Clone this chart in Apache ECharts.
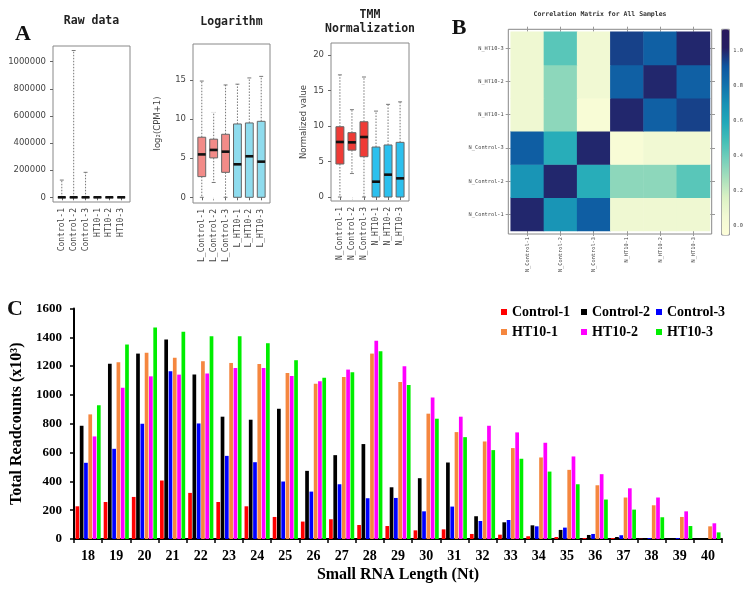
<!DOCTYPE html>
<html><head><meta charset="utf-8">
<script src="https://cdn.jsdelivr.net/npm/echarts@6/dist/echarts.min.js"></script>
<style>html,body{margin:0;padding:0;background:#fff}#c{width:749px;height:592px}</style>
</head><body><div id="c"></div>
<script>
// ---------- Panel A data ----------
const rawCats = ['Control-1','Control-2','Control-3','HT10-1','HT10-2','HT10-3'];
const logCats = ['L_Control-1','L_Control-2','L_Control-3','L_HT10-1','L_HT10-2','L_HT10-3'];
const tmmCats = ['N_Control-1','N_Control-2','N_Control-3','N_HT10-1','N_HT10-2','N_HT10-3'];
// [low whisker, Q1, median, Q3, high whisker]
const rawBox = [[0,0,0,0,127000],[0,0,0,0,1082000],[0,0,0,0,184000],[0,0,0,0,0],[0,0,0,0,0],[0,0,0,0,0]];
const logBox = [[0,2.65,5.5,7.7,14.9],[1.9,5.05,6.07,7.45,10.9],[0,3.2,5.85,8.08,14.4],[0,0,4.23,9.4,14.5],[0,0,5.26,9.53,15.3],[0,0,4.57,9.74,15.5]];
const logOutliers = [[0,15.6],[0,18.0],[0,18.4],[1,11.2],[1,11.5],[1,11.7],[1,11.9],[1,12.1],[1,18.8],[1,1.3],[1,1.0],[1,0.7],[1,0.4],[1,0.1],[2,15.8],[2,16.2],[2,17.6]];
const tmmBox = [[0,4.65,7.75,9.9,17.2],[3.3,6.6,7.7,9.06,12.3],[0,5.68,8.45,10.6,16.9],[0,0,2.16,7.04,12.1],[0,0,3.15,7.33,13.05],[0,0,2.63,7.7,13.4]];
const tmmOutliers = [[0,17.8],[0,20.4],[1,12.9],[1,13.1],[1,13.3],[1,13.5],[1,13.7],[1,20.4],[1,2.8],[1,2.5],[1,2.2],[1,1.5],[1,1.0],[1,0.0],[2,18.5],[2,19.0],[2,20.3]];
const rawTicks = [0,200000,400000,600000,800000,1000000];
const logTicks = [0,5,10,15];
const tmmTicks = [0,5,10,15,20];

// ---------- Panel B data ----------
const corrCats = ['N_Control-1','N_Control-2','N_Control-3','N_HT10-1','N_HT10-2','N_HT10-3'];
const corrMatrix = [
  [1.00,0.68,0.88,0.07,0.07,0.07],
  [0.68,1.00,0.57,0.33,0.33,0.44],
  [0.88,0.57,1.00,0.00,0.06,0.06],
  [0.07,0.33,0.00,1.00,0.87,0.95],
  [0.07,0.33,0.06,0.87,1.00,0.87],
  [0.07,0.44,0.06,0.95,0.87,1.00]
];
const cbTicks = [0,0.2,0.4,0.6,0.8,1.0];

// ---------- Panel C data ----------
const lengths = ['18','19','20','21','22','23','24','25','26','27','28','29','30','31','32','33','34','35','36','37','38','39','40'];
const control1 = [227,257,292,406,320,257,227,153,121,137,97,90,60,67,35,30,19,14,7,7,2,0,0];
const control2 = [786,1217,1287,1384,1141,849,828,904,473,582,659,359,422,531,158,116,95,63,28,14,5,0,0];
const control3 = [529,626,800,1164,802,577,533,399,329,380,283,285,192,225,125,132,88,79,35,26,7,7,0];
const ht101 = [865,1227,1292,1259,1234,1222,1215,1153,1078,1125,1287,1090,870,742,677,631,566,480,373,288,234,153,88];
const ht102 = [712,1050,1129,1141,1148,1187,1187,1132,1095,1176,1377,1199,983,849,786,740,668,573,450,352,288,192,109];
const ht103 = [928,1350,1468,1438,1408,1408,1359,1241,1120,1157,1303,1069,835,707,617,557,468,380,274,204,151,90,46];

// ---------- styles ----------
const MONO = 'DejaVu Sans Mono';
const SANS = 'DejaVu Sans';
const SERIF = 'Liberation Serif';
const rawFill = ['#f28b88','#f28b88','#f28b88','#8fdcee','#8fdcee','#8fdcee'];
const logFill = ['#f28b88','#f28b88','#f28b88','#8fdcee','#8fdcee','#8fdcee'];
const tmmFill = ['#ef3b36','#ef3b36','#ef3b36','#2cc0ee','#2cc0ee','#2cc0ee'];
const corrPalette = ['#fdfed8','#f2f9d4','#dbf1c4','#a9e0bc','#78d0bb','#45bfb7','#22a9b9','#1892b5','#1372ac','#0e56a0','#261e63','#2a1a5c'];

function boxData(stats){ return stats.map((s,i)=>[i].concat(s)); }
function boxRender(fills){
  return function(params, api){
    const x = api.value(0);
    const lo = api.coord([x, api.value(1)]);
    const q1 = api.coord([x, api.value(2)]);
    const md = api.coord([x, api.value(3)]);
    const q3 = api.coord([x, api.value(4)]);
    const hi = api.coord([x, api.value(5)]);
    const bw = api.size([1,0])[0]*0.66;
    const cx = q1[0], half = bw/2, cap = bw/4;
    const dash = {stroke:'#777', lineWidth:1, lineDash:[1.5,1.5], fill:null};
    const solid = {stroke:'#777', lineWidth:1, fill:null};
    const ch = [];
    if (hi[1] < q3[1]-0.5) {
      ch.push({type:'line', shape:{x1:cx,y1:q3[1],x2:cx,y2:hi[1]}, style:dash});
      ch.push({type:'line', shape:{x1:cx-cap,y1:hi[1],x2:cx+cap,y2:hi[1]}, style:solid});
    }
    if (lo[1] > q1[1]+0.5) {
      ch.push({type:'line', shape:{x1:cx,y1:q1[1],x2:cx,y2:lo[1]}, style:dash});
      ch.push({type:'line', shape:{x1:cx-cap,y1:lo[1],x2:cx+cap,y2:lo[1]}, style:solid});
    }
    ch.push({type:'rect', shape:{x:cx-half,y:q3[1],width:bw,height:Math.max(q1[1]-q3[1],0)}, style:{fill:fills[params.dataIndex], stroke:'#666', lineWidth:1}});
    ch.push({type:'line', shape:{x1:cx-half,y1:md[1],x2:cx+half,y2:md[1]}, style:{stroke:'#111', lineWidth:2.6}});
    return {type:'group', children:ch};
  };
}

const heatData = [];
corrMatrix.forEach((row,i)=>row.forEach((v,j)=>heatData.push([j,i,v])));

const frameGrid = (l,t,w,h)=>({left:l,top:t,width:w,height:h,show:true,borderColor:'#888',borderWidth:1,backgroundColor:'transparent',containLabel:false,outerBoundsMode:'none'});
const plainGrid = (l,t,w,h)=>({left:l,top:t,width:w,height:h,containLabel:false,outerBoundsMode:'none'});
const hiddenVal = (g,min,max)=>({type:'value',gridIndex:g,show:false,min:min,max:max});
const frameY = (g,min,max,ticks,name,gap)=>({
  type:'value',gridIndex:g,min:min,max:max,
  name:name||'',nameLocation:'middle',nameRotate:90,nameGap:gap||0,
  nameTextStyle:{fontFamily:SANS,fontSize:8.5,color:'#444'},
  axisLine:{show:false},splitLine:{show:false},
  axisTick:{show:true,length:3,lineStyle:{color:'#666'},customValues:ticks},
  axisLabel:{show:true,margin:7,fontFamily:SANS,fontSize:8.5,color:'#444',customValues:ticks,formatter:v=>String(v)}
});
const boxX = (g,cats)=>({
  type:'category',gridIndex:g,data:cats,boundaryGap:true,
  axisLine:{show:false},splitLine:{show:false},
  axisTick:{show:true,alignWithLabel:true,interval:0,length:3,lineStyle:{color:'#666'}},
  axisLabel:{rotate:90,interval:0,margin:6,fontFamily:MONO,fontSize:8,color:'#444'}
});

const RAW = [-34650,1115400], LOG=[-0.73,19.65], TMM=[-0.56,21.69];

const barSeries = [
  ['Control-1',control1,'#ff0000'],['Control-2',control2,'#000000'],['Control-3',control3,'#0000ff'],
  ['HT10-1',ht101,'#f5873f'],['HT10-2',ht102,'#ff00ff'],['HT10-3',ht103,'#00ee00']
].map(([n,d,c])=>({name:n,type:'bar',xAxisIndex:10,yAxisIndex:10,data:d,barWidth:3.7,barGap:'16%',itemStyle:{color:c},emphasis:{disabled:true}}));

const legendBase = {orient:'vertical',icon:'rect',itemWidth:6,itemHeight:6,itemGap:6,padding:0,selectedMode:false,
  textStyle:{fontFamily:SERIF,fontWeight:'bold',fontSize:14,color:'#000'}};

const option = {
  animation:false,
  backgroundColor:'#fff',
  title:[
    {text:'Raw data',left:91.5,top:15,textAlign:'center',padding:0,textStyle:{fontFamily:MONO,fontWeight:'bold',fontSize:11.5,color:'#222'}},
    {text:'Logarithm',left:231.5,top:16.5,textAlign:'center',padding:0,textStyle:{fontFamily:MONO,fontWeight:'bold',fontSize:11.5,color:'#222'}},
    {text:'TMM\nNormalization',left:370,top:8,textAlign:'center',padding:0,textStyle:{fontFamily:MONO,fontWeight:'bold',fontSize:11.5,lineHeight:14.3,color:'#222'}},
    {text:'Correlation Matrix for All Samples',left:600,top:11,textAlign:'center',padding:0,textStyle:{fontFamily:MONO,fontWeight:'bold',fontSize:6.5,color:'#333'}},
    {text:'A',left:23,top:23,textAlign:'center',padding:0,textStyle:{fontFamily:SERIF,fontWeight:'bold',fontSize:22,color:'#111'}},
    {text:'B',left:459,top:17,textAlign:'center',padding:0,textStyle:{fontFamily:SERIF,fontWeight:'bold',fontSize:22,color:'#111'}},
    {text:'C',left:15,top:298,textAlign:'center',padding:0,textStyle:{fontFamily:SERIF,fontWeight:'bold',fontSize:22,color:'#111'}}
  ],
  legend:[
    Object.assign({data:['Control-1','HT10-1'],left:501,top:305},legendBase),
    Object.assign({data:['Control-2','HT10-2'],left:581,top:305},legendBase),
    Object.assign({data:['Control-3','HT10-3'],left:656,top:305},legendBase)
  ],
  grid:[
    frameGrid(53,46,77,156), plainGrid(55.85,46,71.3,156),
    frameGrid(193,44,77,159), plainGrid(195.85,44,71.3,159),
    frameGrid(331,43,78,158), plainGrid(333.9,43,72.2,158),
    frameGrid(508.3,29.3,203.4,204.7), plainGrid(510.7,31.7,199.3,199.3),
    frameGrid(721.7,29.3,7.6,205.7),
    plainGrid(74,308.5,648,230.5)
  ],
  xAxis:[
    hiddenVal(0,0,1), boxX(1,rawCats),
    hiddenVal(2,0,1), boxX(3,logCats),
    hiddenVal(4,0,1), boxX(5,tmmCats),
    hiddenVal(6,0,1),
    {type:'category',gridIndex:7,data:corrCats,position:'bottom',
      axisLine:{show:false},splitLine:{show:false},
      axisTick:{show:true,alignWithLabel:true,interval:0,length:5,lineStyle:{color:'#999'}},
      axisLabel:{rotate:90,interval:0,margin:6,fontFamily:MONO,fontSize:5.3,color:'#444'}},
    {type:'category',gridIndex:7,data:corrCats,position:'top',
      axisLine:{show:false},splitLine:{show:false},axisLabel:{show:false},
      axisTick:{show:true,alignWithLabel:true,interval:0,length:5,lineStyle:{color:'#999'}}},
    hiddenVal(8,0,1),
    {type:'category',gridIndex:9,data:lengths,boundaryGap:true,
      axisLine:{show:true,lineStyle:{color:'#000',width:2}},splitLine:{show:false},
      axisTick:{show:true,length:4,lineStyle:{color:'#000',width:1.5}},
      axisLabel:{interval:0,margin:10,fontFamily:SERIF,fontWeight:'bold',fontSize:14,color:'#000'},
      name:'Small RNA Length (Nt)',nameLocation:'middle',nameGap:28,
      nameTextStyle:{fontFamily:SERIF,fontWeight:'bold',fontSize:16,color:'#000'}}
  ],
  yAxis:[
    frameY(0,RAW[0],RAW[1],rawTicks), hiddenVal(1,RAW[0],RAW[1]),
    frameY(2,LOG[0],LOG[1],logTicks,'log\u2082(CPM+1)',31), hiddenVal(3,LOG[0],LOG[1]),
    frameY(4,TMM[0],TMM[1],tmmTicks,'Normalized value',23), hiddenVal(5,TMM[0],TMM[1]),
    hiddenVal(6,0,1),
    {type:'category',gridIndex:7,data:corrCats,position:'left',
      axisLine:{show:false},splitLine:{show:false},
      axisTick:{show:true,alignWithLabel:true,interval:0,length:5,lineStyle:{color:'#999'}},
      axisLabel:{interval:0,margin:7,fontFamily:MONO,fontSize:5.3,color:'#444'}},
    {type:'category',gridIndex:7,data:corrCats,position:'right',
      axisLine:{show:false},splitLine:{show:false},axisLabel:{show:false},
      axisTick:{show:true,alignWithLabel:true,interval:0,length:5,lineStyle:{color:'#999'}}},
    {type:'value',gridIndex:8,min:-0.053,max:1.124,position:'right',
      axisLine:{show:false},splitLine:{show:false},
      axisTick:{show:true,length:2,lineStyle:{color:'#999'},customValues:cbTicks},
      axisLabel:{margin:4,fontFamily:MONO,fontSize:5.3,color:'#444',customValues:cbTicks,formatter:v=>v.toFixed(1)}},
    {type:'value',gridIndex:9,min:0,max:1600,interval:200,
      axisLine:{show:true,lineStyle:{color:'#000',width:2}},splitLine:{show:false},
      axisTick:{show:true,length:4,lineStyle:{color:'#000',width:1.5}},
      axisLabel:{margin:12,fontFamily:SERIF,fontWeight:'bold',fontSize:13,color:'#000',formatter:v=>String(v)},
      name:'Total Readcounts (x10\u00b3)',nameLocation:'middle',nameRotate:90,nameGap:37,
      nameTextStyle:{fontFamily:SERIF,fontWeight:'bold',fontSize:16,color:'#000'}}
  ],
  visualMap:{type:'continuous',seriesIndex:5,min:-0.053,max:1.124,calculable:false,
    left:721.7,top:29.3,itemWidth:7.6,itemHeight:205.7,padding:0,text:null,showLabel:false,
    inRange:{color:corrPalette}},
  series:[
    {type:'custom',xAxisIndex:1,yAxisIndex:1,data:boxData(rawBox),renderItem:boxRender(rawFill),encode:{x:0,y:[1,2,3,4,5]},silent:true},
    {type:'custom',xAxisIndex:3,yAxisIndex:3,data:boxData(logBox),renderItem:boxRender(logFill),encode:{x:0,y:[1,2,3,4,5]},silent:true},
    {type:'scatter',xAxisIndex:3,yAxisIndex:3,data:logOutliers,symbol:'emptyCircle',symbolSize:4.2,itemStyle:{color:'#fff',borderColor:'#666',borderWidth:0.9},silent:true},
    {type:'custom',xAxisIndex:5,yAxisIndex:5,data:boxData(tmmBox),renderItem:boxRender(tmmFill),encode:{x:0,y:[1,2,3,4,5]},silent:true},
    {type:'scatter',xAxisIndex:5,yAxisIndex:5,data:tmmOutliers,symbol:'emptyCircle',symbolSize:4.2,itemStyle:{color:'#fff',borderColor:'#666',borderWidth:0.9},silent:true},
    {type:'heatmap',xAxisIndex:7,yAxisIndex:7,data:heatData,itemStyle:{borderWidth:0},emphasis:{disabled:true},silent:true}
  ].concat(barSeries)
};

const chart = echarts.init(document.getElementById('c'), null, {renderer:'canvas'});
chart.setOption(option);
</script>
</body></html>
